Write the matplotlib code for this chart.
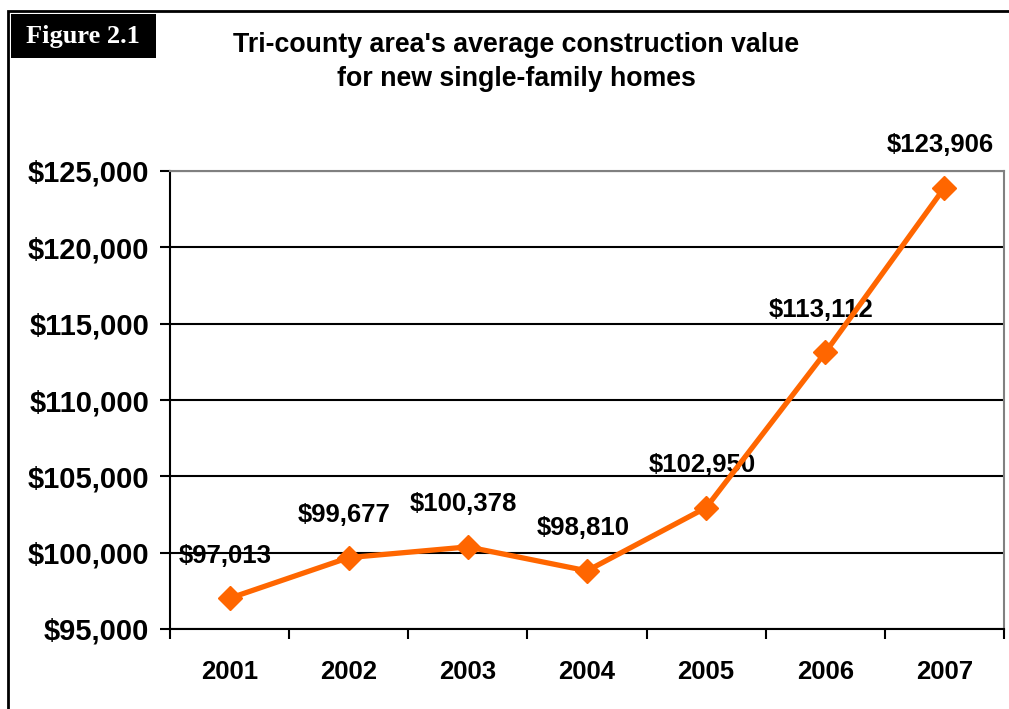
import matplotlib
matplotlib.use("Agg")
import matplotlib.pyplot as plt
from matplotlib.patches import Rectangle
from matplotlib.ticker import FixedLocator, FuncFormatter

years = ["2001", "2002", "2003", "2004", "2005", "2006", "2007"]
values = [97013, 99677, 100378, 98810, 102950, 113112, 123906]
yticks = [95000, 100000, 105000, 110000, 115000, 120000, 125000]

plt.rcParams['font.family'] = ['Liberation Sans', 'DejaVu Sans']
plt.rcParams['font.weight'] = 'bold'

fig = plt.figure(figsize=(10.09, 7.09), dpi=100)
fig.patch.set_facecolor('white')

# outer frame (cut off at right/bottom like the original)
fig.patches.append(Rectangle((8/1009, -0.05), 1.2, 1 - 11/709 + 0.05,
                             transform=fig.transFigure, fill=False,
                             edgecolor='black', lw=2, clip_on=False))

ax = fig.add_axes([170/1009, 1 - 629/709, (1004-170)/1009, (629-171)/709])

x = list(range(len(years)))
ax.plot(x, values, color='#FF6600', lw=3.8, marker='D', markersize=12,
        zorder=4, clip_on=False)

for xi, v in zip(x, values):
    ax.annotate("${:,}".format(v), (xi, v), xytext=(-3, 22),
                textcoords='offset points', ha='center', va='bottom',
                fontsize=18.5, fontweight='bold', zorder=3)

ax.set_xlim(-0.5, len(years) - 0.5)
ax.set_ylim(95000, 125000)
ax.set_yticks(yticks)
ax.yaxis.set_major_formatter(FuncFormatter(lambda v, p: "${:,.0f}".format(v)))
ax.set_xticks(x)
ax.set_xticklabels(years)
ax.xaxis.set_minor_locator(FixedLocator([i - 0.5 for i in range(len(years) + 1)]))

ax.tick_params(axis='x', which='major', length=0, pad=22, labelsize=18.5)
ax.tick_params(axis='x', which='minor', length=7, width=1.5, direction='out')
ax.tick_params(axis='y', length=7, width=1.5, direction='out', pad=8,
               labelsize=21)
for lab in ax.get_xticklabels() + ax.get_yticklabels():
    lab.set_fontweight('bold')

ax.grid(axis='y', color='black', lw=1.5, zorder=1)
ax.set_axisbelow(True)
ax.spines['left'].set_linewidth(1.5)
ax.spines['bottom'].set_linewidth(1.5)
ax.spines['top'].set_color('#808080')
ax.spines['right'].set_color('#808080')
ax.spines['top'].set_linewidth(1.5)
ax.spines['right'].set_linewidth(1.5)

# figure label box
fig.patches.append(Rectangle((11/1009, 1 - 58/709), 145/1009, 44/709,
                             transform=fig.transFigure, facecolor='black',
                             edgecolor='none'))
fig.text(83/1009, 1 - 36/709, "Figure 2.1", color='white', ha='center',
         va='center', fontsize=19, fontweight='bold',
         family=['Liberation Serif', 'DejaVu Serif'])

fig.text(516/1009, 1 - 62/709,
         "Tri-county area's average construction value\nfor new single-family homes",
         ha='center', va='center', fontsize=19.3, fontweight='bold',
         linespacing=1.35)

fig.savefig("out.png", dpi=100, facecolor='white')
